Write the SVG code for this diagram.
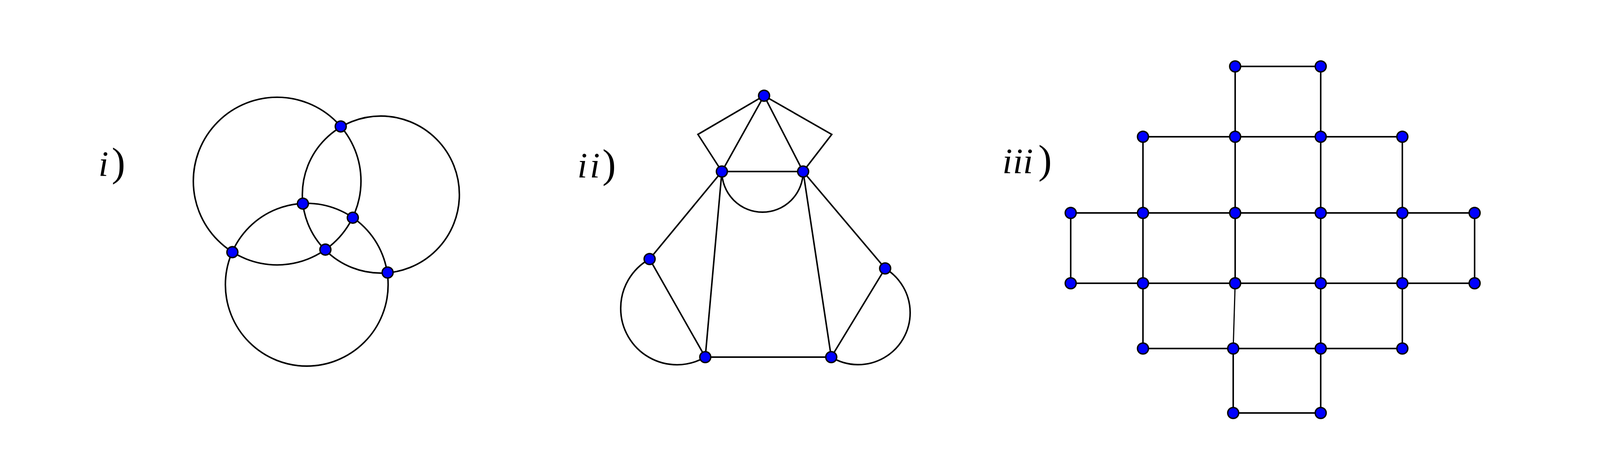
<svg xmlns="http://www.w3.org/2000/svg" width="4152" height="1162" viewBox="0 0 4152 1162">
<style>
.edge{fill:none;stroke:#000;stroke-width:3.9;stroke-linejoin:miter}
.thin{fill:none;stroke:#000;stroke-width:3}
.node{fill:#0000FF;stroke:#000;stroke-width:3.6}
.lbl{font-family:"Liberation Serif","Times New Roman",serif;font-size:92px;fill:#000}
.it{font-style:italic}
.par{font-size:104px;font-style:normal}
</style>
<rect x="0" y="0" width="4152" height="1162" fill="#fff"/>
<g id="labels">
<text class="lbl" y="450"><tspan class="it" x="252">i</tspan><tspan class="par" x="286">)</tspan></text>
<text class="lbl" y="454"><tspan class="it" x="1478">i</tspan><tspan class="it" x="1510">i</tspan><tspan class="par" x="1542">)</tspan></text>
<text class="lbl" y="443"><tspan class="it" x="2566">i</tspan><tspan class="it" x="2593">i</tspan><tspan class="it" x="2619">i</tspan><tspan class="par" x="2658">)</tspan></text>
</g>
<g id="connectors">
<circle class="edge" cx="709.5" cy="463.5" r="214.6"/>
<circle class="edge" cx="975" cy="498" r="201"/>
<circle class="edge" cx="785.3" cy="728.7" r="208.3"/>
<polyline class="edge" points="1956,245 1786.7,344 1848,439"/>
<polyline class="edge" points="1956,245 2129.3,344 2056,439"/>
<line class="edge" x1="1956" y1="245" x2="1848" y2="439"/>
<line class="edge" x1="1956" y1="245" x2="2056" y2="439"/>
<line class="edge" x1="1848" y1="439" x2="2056" y2="439"/>
<path class="edge" d="M1848,439 A104,104 0 0 0 2056,439"/>
<line class="edge" x1="1848" y1="439" x2="1663" y2="663"/>
<line class="edge" x1="1848" y1="439" x2="1805.5" y2="914"/>
<line class="edge" x1="2056" y1="439" x2="2266" y2="687"/>
<line class="edge" x1="2056" y1="439" x2="2128" y2="914"/>
<line class="edge" x1="1663" y1="663" x2="1805.5" y2="914"/>
<line class="edge" x1="2266" y1="687" x2="2128" y2="914"/>
<line class="edge" x1="1805.5" y1="914" x2="2128" y2="914"/>
<path class="edge" d="M1663,663 A144,144 0 0 0 1589,790 A144,144 0 0 0 1805.5,914"/>
<path class="edge" d="M2266,687 A133,133 0 0 1 2330,800 A133,133 0 0 1 2128,914"/>
<line class="edge" x1="3162" y1="170" x2="3381" y2="170"/>
<line class="edge" x1="2926" y1="350" x2="3590" y2="350"/>
<line class="edge" x1="2741" y1="545" x2="3775" y2="545"/>
<line class="edge" x1="2741" y1="725" x2="3775" y2="725"/>
<line class="edge" x1="2926" y1="892" x2="3590" y2="892"/>
<line class="edge" x1="3157" y1="1057" x2="3381" y2="1057"/>
<line class="edge" x1="2741" y1="545" x2="2741" y2="725"/>
<line class="edge" x1="2926" y1="350" x2="2926" y2="892"/>
<line class="edge" x1="3162" y1="170" x2="3162" y2="725"/>
<line class="thin" x1="3162" y1="725" x2="3157" y2="892"/>
<line class="edge" x1="3157" y1="892" x2="3157" y2="1057"/>
<line class="edge" x1="3381" y1="170" x2="3381" y2="1057"/>
<line class="edge" x1="3590" y1="350" x2="3590" y2="892"/>
<line class="edge" x1="3775" y1="545" x2="3775" y2="725"/>
</g>
<g id="i-A"><circle class="node" cx="872.3" cy="323.7" r="14"/></g>
<g id="i-B"><circle class="node" cx="775.4" cy="521.2" r="14"/></g>
<g id="i-C"><circle class="node" cx="903.2" cy="557.2" r="14"/></g>
<g id="i-D"><circle class="node" cx="833" cy="638.9" r="14"/></g>
<g id="i-E"><circle class="node" cx="594.9" cy="645.4" r="14"/></g>
<g id="i-F"><circle class="node" cx="992.3" cy="697.5" r="14"/></g>
<g id="ii-T"><circle class="node" cx="1956" cy="245" r="14"/></g>
<g id="ii-L1"><circle class="node" cx="1848" cy="439" r="14"/></g>
<g id="ii-R1"><circle class="node" cx="2056" cy="439" r="14"/></g>
<g id="ii-LL"><circle class="node" cx="1663" cy="663" r="14"/></g>
<g id="ii-RR"><circle class="node" cx="2266" cy="687" r="14"/></g>
<g id="ii-BL"><circle class="node" cx="1805.5" cy="914" r="14"/></g>
<g id="ii-BR"><circle class="node" cx="2128" cy="914" r="14"/></g>
<g id="iii-r0c2"><circle class="node" cx="3162" cy="170" r="14"/></g>
<g id="iii-r0c3"><circle class="node" cx="3381" cy="170" r="14"/></g>
<g id="iii-r1c1"><circle class="node" cx="2926" cy="350" r="14"/></g>
<g id="iii-r1c2"><circle class="node" cx="3162" cy="350" r="14"/></g>
<g id="iii-r1c3"><circle class="node" cx="3381" cy="350" r="14"/></g>
<g id="iii-r1c4"><circle class="node" cx="3590" cy="350" r="14"/></g>
<g id="iii-r2c0"><circle class="node" cx="2741" cy="545" r="14"/></g>
<g id="iii-r2c1"><circle class="node" cx="2926" cy="545" r="14"/></g>
<g id="iii-r2c2"><circle class="node" cx="3162" cy="545" r="14"/></g>
<g id="iii-r2c3"><circle class="node" cx="3381" cy="545" r="14"/></g>
<g id="iii-r2c4"><circle class="node" cx="3590" cy="545" r="14"/></g>
<g id="iii-r2c5"><circle class="node" cx="3775" cy="545" r="14"/></g>
<g id="iii-r3c0"><circle class="node" cx="2741" cy="725" r="14"/></g>
<g id="iii-r3c1"><circle class="node" cx="2926" cy="725" r="14"/></g>
<g id="iii-r3c2"><circle class="node" cx="3162" cy="725" r="14"/></g>
<g id="iii-r3c3"><circle class="node" cx="3381" cy="725" r="14"/></g>
<g id="iii-r3c4"><circle class="node" cx="3590" cy="725" r="14"/></g>
<g id="iii-r3c5"><circle class="node" cx="3775" cy="725" r="14"/></g>
<g id="iii-r4c1"><circle class="node" cx="2926" cy="892" r="14"/></g>
<g id="iii-r4c2"><circle class="node" cx="3157" cy="892" r="14"/></g>
<g id="iii-r4c3"><circle class="node" cx="3381" cy="892" r="14"/></g>
<g id="iii-r4c4"><circle class="node" cx="3590" cy="892" r="14"/></g>
<g id="iii-r5c2"><circle class="node" cx="3157" cy="1057" r="14"/></g>
<g id="iii-r5c3"><circle class="node" cx="3381" cy="1057" r="14"/></g>
</svg>
